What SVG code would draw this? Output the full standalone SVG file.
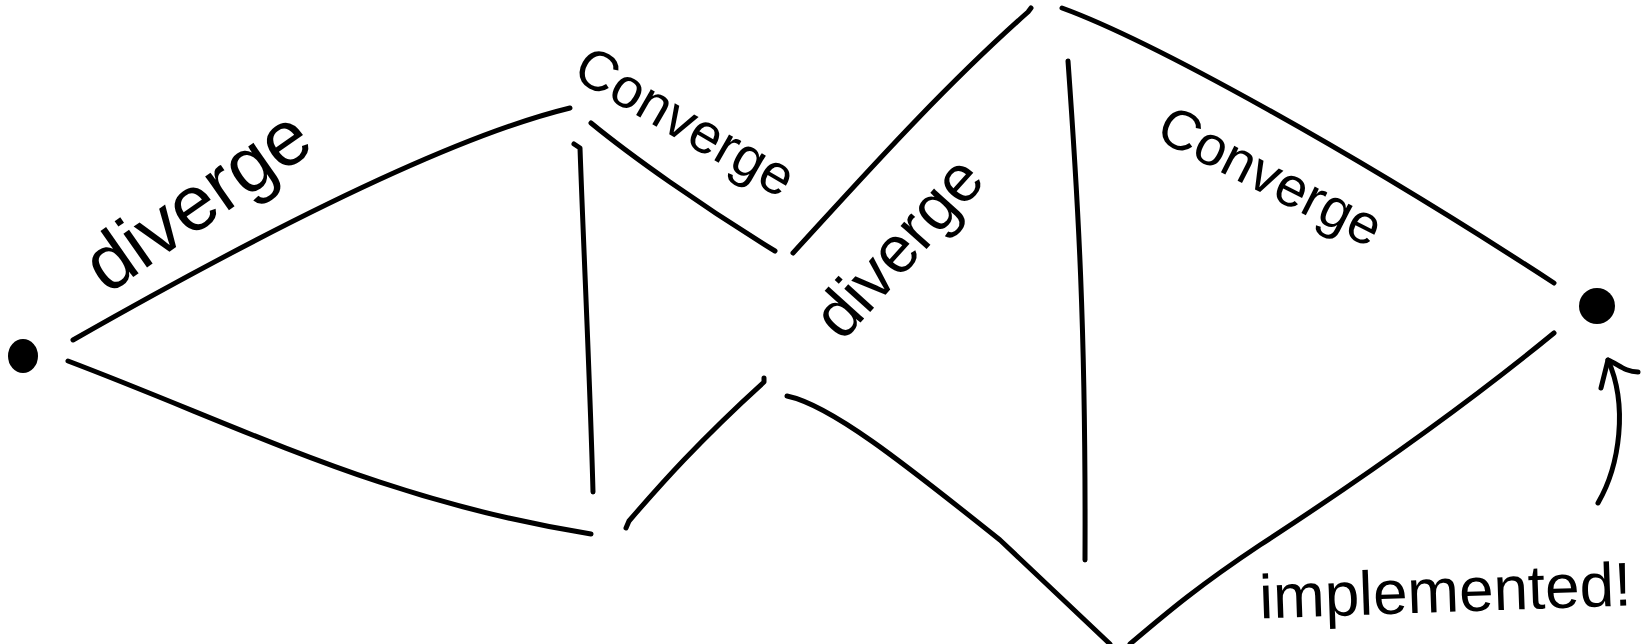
<svg xmlns="http://www.w3.org/2000/svg" width="1641" height="644" viewBox="0 0 1641 644">
<defs>
<style>
.ln{fill:none;stroke:#000;stroke-width:5;stroke-linecap:round;stroke-linejoin:round}
.dot{fill:#000}
.lbl{font-family:"Liberation Sans","Noto Sans",sans-serif;fill:#000;text-anchor:middle}
</style>
</defs>
<rect width="1641" height="644" fill="#fff"/>
<g id="connectors">
<path class="ln" d="M73,340 C210,262 430,142 570,108"/>
<path class="ln" d="M68,361 C250,430 380,500 591,534"/>
<path class="ln" d="M574,144 L580,148 C584,260 590,380 593,492"/>
<path class="ln" d="M591,123 C630,155 700,205 775,251"/>
<path class="ln" d="M626,528 L629,521 C660,485 700,440 764,382 L764,378"/>
<path class="ln" d="M793,253 C860,180 940,90 1028,12 L1031,8"/>
<path class="ln" d="M787,396 C830,405 900,460 1000,540 L1110,644"/>
<path class="ln" d="M1130,644 C1170,610 1200,585 1260,545 C1360,480 1460,410 1554,333"/>
<path class="ln" d="M1068,61 C1078,200 1086,330 1085,560"/>
<path class="ln" d="M1062,8 C1150,40 1350,150 1554,283"/>
<path class="ln" d="M1598,503 C1620,465 1628,405 1608,360"/>
<path class="ln" d="M1601,388 L1608,360 C1618,364 1625,372 1638,372"/>
</g>
<g id="start-node"><ellipse class="dot" cx="23" cy="356" rx="15" ry="17"/></g>
<g id="end-node"><circle class="dot" cx="1597" cy="306" r="18"/></g>
<g id="label-diverge-1"><text class="lbl" font-size="78" transform="translate(212,222) rotate(-35)">diverge</text></g>
<g id="label-converge-1"><text class="lbl" font-size="56" transform="translate(676,138) rotate(30)">Converge</text></g>
<g id="label-diverge-2"><text class="lbl" font-size="66" transform="translate(915,262) rotate(-48)">diverge</text></g>
<g id="label-converge-2"><text class="lbl" font-size="56" transform="translate(1262,193) rotate(27)">Converge</text></g>
<g id="label-implemented"><text class="lbl" font-size="62" transform="translate(1446,612) rotate(-2)">implemented!</text></g>
</svg>
